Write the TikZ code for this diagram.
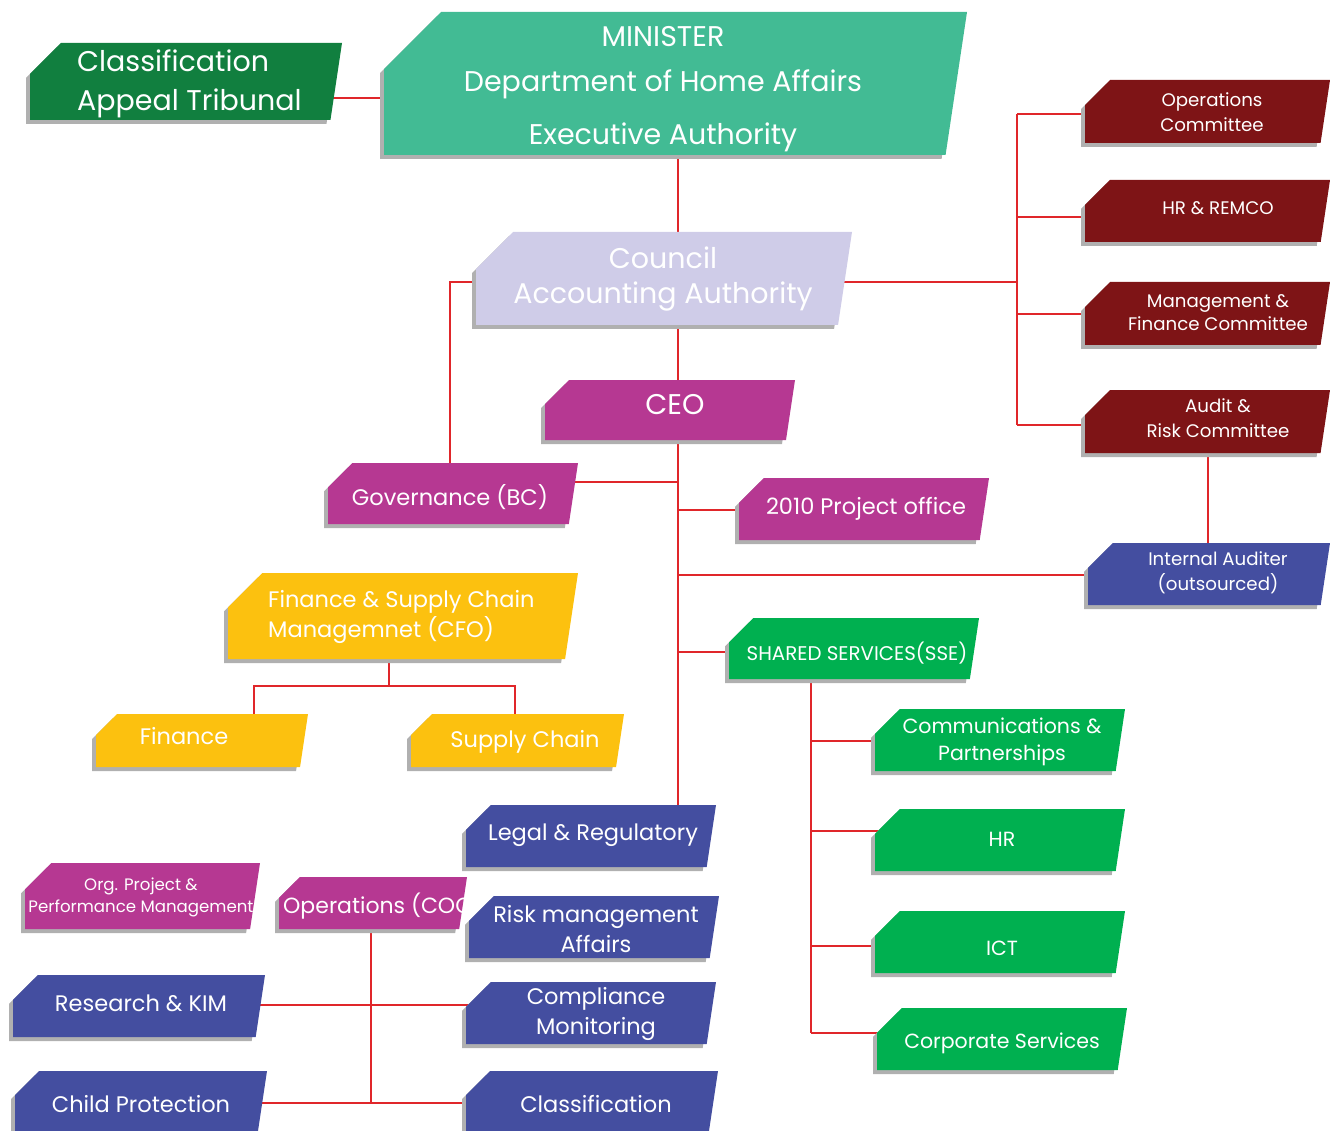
\documentclass[tikz,border=0pt]{standalone}
\usepackage{fontspec}
\setmainfont{Poppins}
\usetikzlibrary{backgrounds}
\definecolor{cAppeal}{HTML}{117F3F}
\definecolor{cMin}{HTML}{42BB94}
\definecolor{cLav}{HTML}{CFCCE8}
\definecolor{cMag}{HTML}{B63892}
\definecolor{cYel}{HTML}{FCC10F}
\definecolor{cGrn}{HTML}{00B050}
\definecolor{cRed}{HTML}{7E1416}
\definecolor{cBlu}{HTML}{444EA0}
\definecolor{cLine}{HTML}{E0262A}
\definecolor{cShadow}{HTML}{B0B0B0}
\newcommand\orgbox[6]{%
  \pgfmathsetmacro\bh{#5-#3}%
  \pgfmathsetmacro\bc{0.4*\bh}%
  \pgfmathsetmacro\bs{0.15*\bh}%
  \fill[cShadow] ({#2-4},{#3+\bc+4}) -- ({#2+\bc-4},{#3+4}) -- ({#4-4},{#3+4}) -- ({#4-\bs-4},{#5+4}) -- ({#2-4},{#5+4}) -- cycle;
  \fill[#6] (#2,{#3+\bc}) -- ({#2+\bc},#3) -- (#4,#3) -- ({#4-\bs},#5) -- (#2,#5) -- cycle;
  \node[anchor=north west, inner sep=0pt, outer sep=0pt, minimum width={(#4-#2)*1pt}, minimum height={(#5-#3)*1pt}] (#1) at (#2,#3) {};
}
\tikzset{
  txt/.style={text=white, align=center, inner sep=0pt},
  conn/.style={draw=cLine, line width=2pt},
  fxl/.style={font=\fontsize{28.5}{39}\selectfont},
  fl/.style={font=\fontsize{22.5}{30}\selectfont},
  fm/.style={font=\fontsize{20.5}{27}\selectfont},
  fs/.style={font=\fontsize{18.2}{25}\selectfont},
}
\begin{document}
\begin{tikzpicture}[x=1pt,y=-1pt]
\useasboundingbox (0,0) rectangle (1330,1131);
% boxes
\orgbox{appeal}{30}{43}{342}{120}{cAppeal}
\orgbox{minister}{384}{12}{967}{155}{cMin}
\orgbox{council}{476}{232}{852}{325}{cLav}
\orgbox{ceo}{545}{380}{795}{440}{cMag}
\orgbox{gov}{328}{463}{578}{524}{cMag}
\orgbox{proj}{739}{478}{989}{540}{cMag}
\orgbox{cfo}{228}{573}{578}{659}{cYel}
\orgbox{fin}{96}{714}{308}{767}{cYel}
\orgbox{sup}{411}{714}{624}{767}{cYel}
\orgbox{sse}{729}{618}{979}{679}{cGrn}
\orgbox{comm}{875}{709}{1125}{771}{cGrn}
\orgbox{hr}{875}{809}{1125}{871}{cGrn}
\orgbox{ict}{875}{911}{1125}{973}{cGrn}
\orgbox{corp}{877}{1008}{1127}{1070}{cGrn}
\orgbox{opc}{1085}{80}{1330}{143}{cRed}
\orgbox{remco}{1085}{180}{1330}{242}{cRed}
\orgbox{mfc}{1085}{282}{1330}{345}{cRed}
\orgbox{audit}{1085}{390}{1330}{453}{cRed}
\orgbox{intaud}{1088}{543}{1330}{605}{cBlu}
\orgbox{legal}{466}{805}{716}{867}{cBlu}
\orgbox{coo}{279}{877}{467}{929}{cMag}
\node[txt, font=\fontsize{22}{30}\selectfont, anchor=west] (coo-t) at (283,906) {Operations (COO)};
\orgbox{risk}{469}{896}{719}{958}{cBlu}
\orgbox{compl}{466}{982}{716}{1044}{cBlu}
\orgbox{classif}{466}{1071}{718}{1131}{cBlu}
\orgbox{org}{25}{863}{260}{929}{cMag}
\orgbox{research}{13}{975}{265}{1037}{cBlu}
\orgbox{child}{15}{1071}{267}{1131}{cBlu}
% texts
\node[txt, fxl, align=left, anchor=west] (appeal-t) at (77,84) {Classification\\Appeal Tribunal};
\node[txt, fxl] (minister-t) at (663,89) {MINISTER\\[6pt]Department of Home Affairs\\[14pt]Executive Authority};
\node[txt, font=\fontsize{28.5}{35}\selectfont] (council-t) at (663,279) {Council\\Accounting Authority};
\node[txt, fxl] (ceo-t) at (675,405) {CEO};
\node[txt, fl] (gov-t) at (450,497) {Governance (BC)};
\node[txt, fl] (proj-t) at (866,509) {2010 Project office};
\node[txt, fl, align=left, anchor=west] (cfo-t) at (268,617) {Finance \& Supply Chain\\Managemnet (CFO)};
\node[txt, fl] (fin-t) at (184,736) {Finance};
\node[txt, fl] (sup-t) at (525,742) {Supply Chain};
\node[txt, font=\fontsize{19.8}{25}\selectfont] (sse-t) at (857,653) {SHARED SERVICES(SSE)};
\node[txt, fm] (comm-t) at (1002,742) {Communications \&\\Partnerships};
\node[txt, fm] (hr-t) at (1002,839) {HR};
\node[txt, fm] (ict-t) at (1002,948) {ICT};
\node[txt, fm] (corp-t) at (1002,1043) {Corporate Services};
\node[txt, fs] (opc-t) at (1212,112) {Operations\\Committee};
\node[txt, fs] (remco-t) at (1218,208) {HR \& REMCO};
\node[txt, font=\fontsize{18.2}{23}\selectfont] (mfc-t) at (1218,313) {Management \&\\Finance Committee};
\node[txt, fs] (audit-t) at (1218,418) {Audit \&\\Risk Committee};
\node[txt, fs] (intaud-t) at (1218,573) {Internal Auditer\\(outsourced)};
\node[txt, fl] (legal-t) at (593,835) {Legal \& Regulatory};
\node[txt, fl] (risk-t) at (596,929) {Risk management\\Affairs};
\node[txt, fl] (compl-t) at (596,1014) {Compliance\\Monitoring};
\node[txt, fl] (classif-t) at (596,1104) {Classification};
\node[txt, font=\fontsize{16.6}{22}\selectfont] (org-t) at (141,897) {Org. Project \&\\Performance Management};
\node[txt, fl] (research-t) at (141,1003) {Research \& KIM};
\node[txt, fl] (child-t) at (141,1104) {Child Protection};
% connectors
\begin{pgfonlayer}{background}
\draw[conn] (appeal.center |- 0,98) -- (minister.center |- 0,98);
\draw[conn] (678,0 |- minister.center) -- (678,0 |- legal.center);
\draw[conn] (council.center |- 0,282) -| (450,0 |- gov.center);
\draw[conn] (gov.center |- 0,482) -- (678,482);
\draw[conn] (678,510) -- (proj.center |- 0,510);
\draw[conn] (678,575) -- (intaud.center |- 0,575);
\draw[conn] (678,652) -- (sse.center |- 0,652);
\draw[conn] (council.center |- 0,282) -- (1017,282);
\draw[conn] (1017,114) -- (1017,425);
\draw[conn] (1017,114) -- (opc.center |- 0,114);
\draw[conn] (1017,217) -- (remco.center |- 0,217);
\draw[conn] (1017,314) -- (mfc.center |- 0,314);
\draw[conn] (1017,425) -- (audit.center |- 0,425);
\draw[conn] (1208,0 |- audit.center) -- (1208,0 |- intaud.center);
\draw[conn] (389,0 |- cfo.center) -- (389,686);
\draw[conn] (254,0 |- fin.center) |- (515,686) -- (515,0 |- sup.center);
\draw[conn] (811,0 |- sse.center) -- (811,1033);
\draw[conn] (811,741) -- (comm.center |- 0,741);
\draw[conn] (811,831) -- (hr.center |- 0,831);
\draw[conn] (811,946) -- (ict.center |- 0,946);
\draw[conn] (811,1033) -- (corp.center |- 0,1033);
\draw[conn] (371,0 |- coo.center) -- (371,1103);
\draw[conn] (research.center |- 0,1005) -- (compl.center |- 0,1005);
\draw[conn] (child.center |- 0,1103) -- (classif.center |- 0,1103);
\end{pgfonlayer}
\end{tikzpicture}
\end{document}
